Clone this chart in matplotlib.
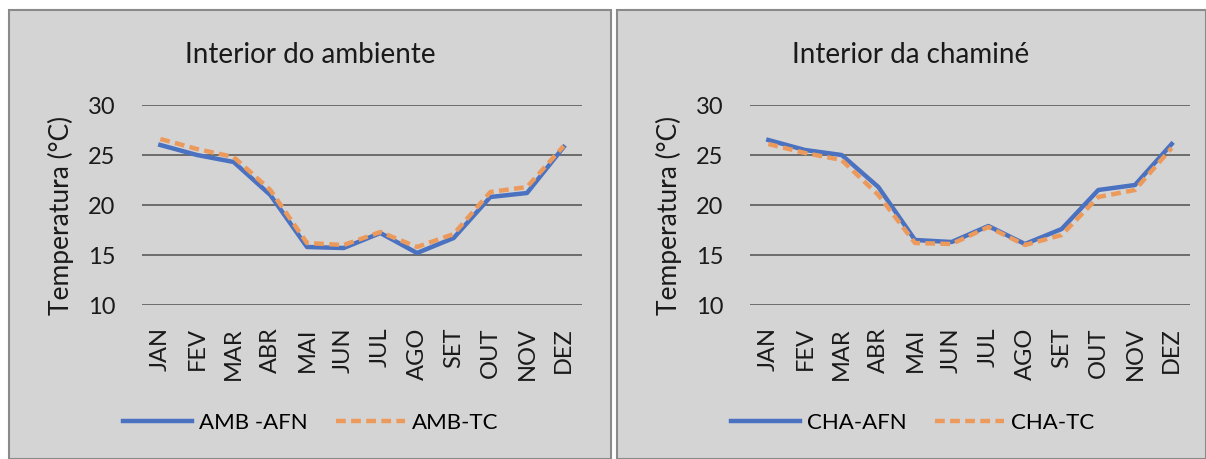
import matplotlib
matplotlib.use("Agg")
import matplotlib.pyplot as plt
from matplotlib.patches import Rectangle

months = ["JAN", "FEV", "MAR", "ABR", "MAI", "JUN", "JUL", "AGO", "SET", "OUT", "NOV", "DEZ"]

amb_afn = [26.0, 25.0, 24.3, 21.0, 15.8, 15.7, 17.2, 15.2, 16.7, 20.8, 21.2, 25.8]
amb_tc = [26.6, 25.6, 24.8, 21.5, 16.2, 16.0, 17.3, 15.8, 17.1, 21.3, 21.8, 25.9]
cha_afn = [26.5, 25.5, 25.0, 21.8, 16.5, 16.3, 17.9, 16.1, 17.6, 21.5, 22.0, 26.1]
cha_tc = [26.1, 25.2, 24.5, 21.0, 16.2, 16.1, 17.8, 16.0, 17.0, 20.8, 21.5, 25.7]

W, H = 1206, 459
BG = "#d5d4d5"
BLUE = "#4a72c0"
ORANGE = "#ec9a5c"
FONT = "Lato"
TXT = "#1a1a1a"

fig = plt.figure(figsize=(W / 100, H / 100), dpi=100)
fig.patch.set_facecolor("white")

# panel backgrounds (pixel boxes converted to figure fractions)
panels = [(9, 611), (617, 1206)]
for x0, x1 in panels:
    fig.patches.append(Rectangle((x0 / W, 0), (x1 - x0) / W, (H - 10) / H,
                                 transform=fig.transFigure, facecolor=BG,
                                 edgecolor="#8a8a8a", linewidth=1.5, zorder=-5))


def panel(left_px, title_cx, title, s1, s2, l1, l2):
    ax = fig.add_axes([left_px / W, (H - 305) / H, 440 / W, 200 / H])
    ax.set_facecolor("none")
    x = range(len(months))
    ax.plot(x, s1, color=BLUE, lw=3.2, label=l1, zorder=3)
    ax.plot(x, s2, color=ORANGE, lw=3.2, ls=(0, (2.2, 1.2)), label=l2, zorder=4)
    ax.set_xlim(-0.5, len(months) - 0.5)
    ax.set_ylim(10, 30)
    ax.set_yticks([10, 15, 20, 25, 30])
    ax.grid(axis="y", color="#5a5a5a", lw=1.2)
    ax.set_axisbelow(True)
    for sp in ax.spines.values():
        sp.set_visible(False)
    ax.set_xticks(list(x))
    ax.set_xticklabels(months, rotation=90, fontsize=17, family=FONT, color=TXT)
    ax.tick_params(axis="x", length=0, pad=16)
    ax.tick_params(axis="y", length=0, pad=19)
    for t in ax.get_yticklabels():
        t.set_fontsize(17)
        t.set_family(FONT)
        t.set_color(TXT)
    ax.set_ylabel("Temperatura (°C)", fontsize=19, family=FONT, color=TXT)
    ax.yaxis.set_label_coords(-68 / 440, 0.45)
    fig.text(title_cx / W, 1 - 63 / H, title, fontsize=20, family=FONT, color=TXT,
             ha="center", va="baseline")
    ax.legend(loc="center left", bbox_to_anchor=(-19 / 440, (305 - 423) / 200),
              ncol=2, frameon=False, prop={"family": FONT, "size": 16},
              handlelength=3.1, handletextpad=0.3, columnspacing=1.3,
              borderaxespad=0, borderpad=0)
    return ax


panel(142, 310, "Interior do ambiente", amb_afn, amb_tc, "AMB -AFN", "AMB-TC")
panel(750, 911, "Interior da chaminé", cha_afn, cha_tc, "CHA-AFN", "CHA-TC")

fig.savefig("out.png", dpi=100, facecolor=fig.get_facecolor())
